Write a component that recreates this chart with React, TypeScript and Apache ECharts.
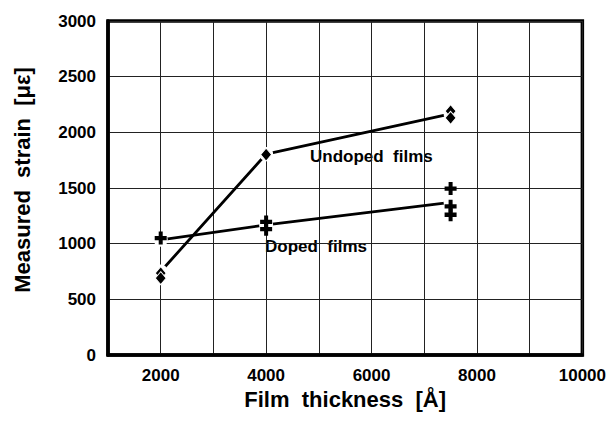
import React, { useEffect, useRef } from "react";
import * as echarts from "echarts";

// Film thickness positions (Å)
const thickness = [2000, 4000, 7500];

// Undoped films: individual measurements [thickness, strain]
const undopedPoints: [number, number][] = [
  [2000, 735],
  [2000, 690],
  [4000, 1800],
  [7500, 2190],
  [7500, 2130],
];
// Undoped films: trend line values at each thickness
const undopedTrend = [750, 1805, 2165];

// Doped films: individual measurements [thickness, strain]
const dopedPoints: [number, number][] = [
  [2000, 1050],
  [4000, 1195],
  [4000, 1130],
  [7500, 1495],
  [7500, 1335],
  [7500, 1260],
];
// Doped films: trend line values at each thickness
const dopedTrend = [1035, 1168, 1370];

const xTicks = [2000, 4000, 6000, 8000, 10000];

const PLUS =
  "path://M4,0L8,0L8,4L12,4L12,8L8,8L8,12L4,12L4,8L0,8L0,4L4,4Z";

const FONT = "'Liberation Sans', Arial, Helvetica, sans-serif";

export default function App() {
  const ref = useRef<HTMLDivElement>(null);
  useEffect(() => {
    if (!ref.current) return;
    const chart = echarts.init(ref.current, undefined, { renderer: "svg" });
    chart.setOption({
      animation: false,
      backgroundColor: "#fff",
      textStyle: { fontFamily: FONT },
      grid: {
        left: 108,
        right: 26,
        top: 21,
        bottom: 72,
        show: true,
        borderColor: "#000",
        borderWidth: 3.5,
        backgroundColor: "transparent",
      },
      xAxis: {
        type: "value",
        min: 1000,
        max: 10000,
        interval: 1000,
        name: "Film  thickness  [Å]",
        nameLocation: "middle",
        nameGap: 32,
        nameTextStyle: {
          fontFamily: FONT,
          fontWeight: "bold",
          fontSize: 22,
          color: "#000",
        },
        axisLine: { show: true, lineStyle: { color: "#000", width: 3.5 } },
        axisTick: { show: false },
        axisLabel: {
          margin: 12,
          fontFamily: FONT,
          fontWeight: "bold",
          fontSize: 17,
          color: "#000",
          formatter: (v: number) => (xTicks.includes(v) ? String(v) : ""),
        },
        splitLine: { show: true, lineStyle: { color: "#222", width: 1 } },
      },
      yAxis: {
        type: "value",
        min: 0,
        max: 3000,
        interval: 500,
        axisLine: { show: true, lineStyle: { color: "#000", width: 3.5 } },
        axisTick: { show: false },
        axisLabel: {
          margin: 12,
          fontFamily: FONT,
          fontWeight: "bold",
          fontSize: 17,
          color: "#000",
          formatter: (v: number) => String(v),
        },
        splitLine: { show: true, lineStyle: { color: "#222", width: 1 } },
      },
      series: [
        {
          type: "line",
          data: thickness.map((t, i) => [t, undopedTrend[i]]),
          symbol: "circle",
          symbolSize: 14,
          showSymbol: true,
          itemStyle: { color: "#fff", borderWidth: 0, opacity: 1 },
          lineStyle: { color: "#000", width: 2.8 },
          z: 2,
          silent: true,
        },
        {
          type: "line",
          data: thickness.map((t, i) => [t, dopedTrend[i]]),
          symbol: "circle",
          symbolSize: 14,
          showSymbol: true,
          itemStyle: { color: "#fff", borderWidth: 0, opacity: 1 },
          lineStyle: { color: "#000", width: 2.8 },
          z: 2,
          silent: true,
        },
        {
          type: "scatter",
          data: undopedPoints,
          symbol: "diamond",
          symbolSize: [11, 13],
          itemStyle: {
            color: "#000",
            borderColor: "#fff",
            borderWidth: 1,
            opacity: 1,
          },
          z: 4,
        },
        {
          type: "scatter",
          data: dopedPoints,
          symbol: PLUS,
          symbolSize: [12, 13],
          itemStyle: { color: "#000", opacity: 1 },
          z: 4,
        },
      ],
      graphic: [
        {
          type: "text",
          x: 22,
          y: 180,
          rotation: Math.PI / 2,
          style: {
            text: "Measured  strain  [με]",
            fontFamily: FONT,
            fontWeight: "bold",
            fontSize: 22,
            fill: "#000",
            align: "center",
            verticalAlign: "middle",
          },
        },
        {
          type: "text",
          left: 310,
          top: 148,
          style: {
            text: "Undoped  films",
            fontFamily: FONT,
            fontWeight: "bold",
            fontSize: 17,
            fill: "#000",
          },
        },
        {
          type: "text",
          left: 265,
          top: 238,
          style: {
            text: "Doped  films",
            fontFamily: FONT,
            fontWeight: "bold",
            fontSize: 17,
            fill: "#000",
          },
        },
      ],
    });
    return () => chart.dispose();
  }, []);
  return (
    <div
      ref={ref}
      style={{ position: "fixed", left: 0, top: 0, width: 609, height: 427 }}
    />
  );
}
